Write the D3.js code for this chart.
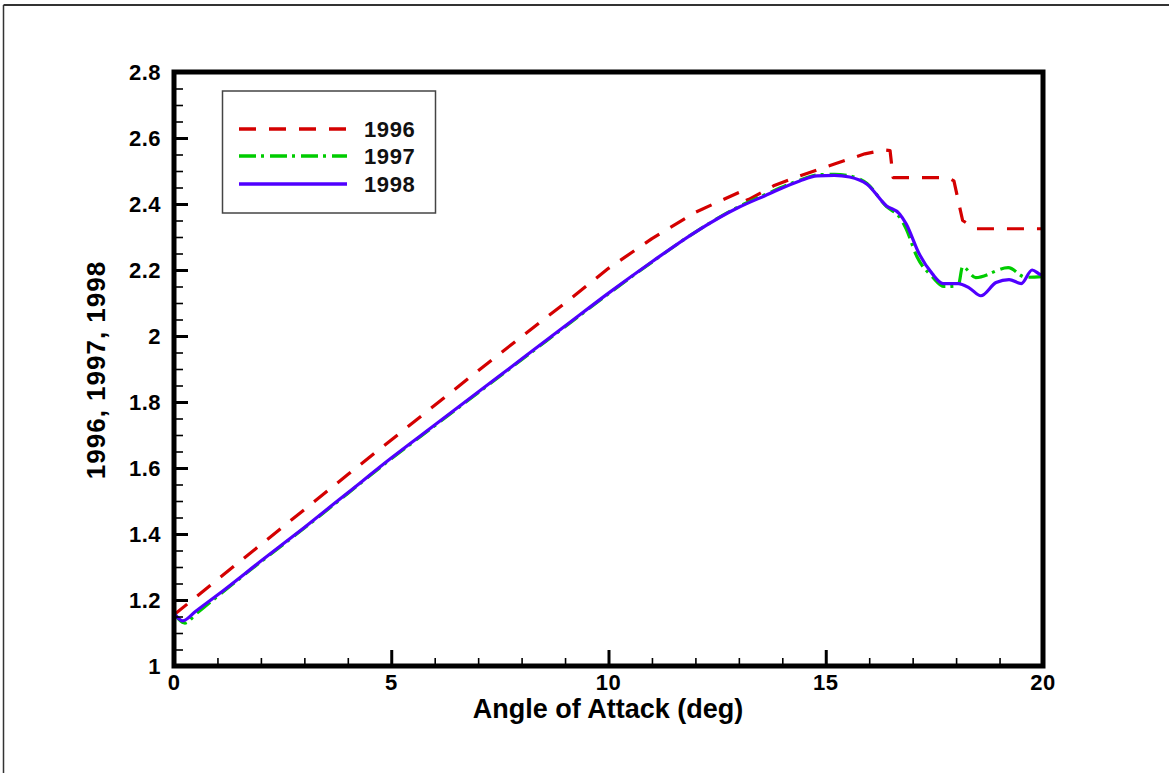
<!DOCTYPE html>
<html>
<head>
<meta charset="utf-8">
<script src="https://cdn.jsdelivr.net/npm/d3@7"></script>
<style>
  html, body { margin: 0; padding: 0; background: #fff; }
  svg { display: block; }
  text { font-family: "Liberation Sans", Arial, Helvetica, sans-serif; font-weight: bold; }
</style>
</head>
<body>
<svg id="chart" width="1169" height="773"></svg>
<script>
// ---------- data ----------
const seriesNames = ["1996", "1997", "1998"];

const aoa1996 = [0, 1, 2, 3, 4, 5, 6, 7, 8, 9, 10, 11, 12, 13, 13.1, 13.2, 13.8, 14.4, 15.2, 15.9, 16.35, 16.48, 16.55, 17.8, 17.95, 18.15, 18.45, 20];
const cl1996  = [1.155, 1.262, 1.368, 1.474, 1.58, 1.685, 1.79, 1.895, 1.998, 2.1, 2.205, 2.295, 2.375, 2.435, 2.44, 2.412, 2.455, 2.485, 2.521, 2.552, 2.564, 2.562, 2.48, 2.48, 2.47, 2.35, 2.325, 2.325];

const aoa1997 = [0, 0.25, 0.5, 1, 2, 3, 4, 5, 6, 7, 8, 9, 10, 11, 12, 13, 13.6, 14.4, 14.8, 15.2, 15.55, 15.95, 16.4, 16.7, 16.85, 17.1, 17.45, 17.72, 18.05, 18.15, 18.45, 19.2, 19.6, 20];
const cl1997  = [1.16, 1.13, 1.157, 1.211, 1.316, 1.418, 1.523, 1.628, 1.728, 1.828, 1.928, 2.028, 2.128, 2.224, 2.315, 2.392, 2.428, 2.472, 2.488, 2.49, 2.485, 2.462, 2.392, 2.36, 2.325, 2.24, 2.18, 2.15, 2.153, 2.21, 2.177, 2.207, 2.178, 2.18];

const aoa1998 = [0, 0.2, 0.5, 1, 2, 3, 4, 5, 6, 7, 8, 9, 10, 11, 12, 13, 13.6, 14.4, 14.8, 15.2, 15.55, 15.95, 16.4, 16.7, 16.85, 17.15, 17.45, 17.7, 18.05, 18.3, 18.57, 18.92, 19.22, 19.5, 19.75, 19.95, 20];
const cl1998  = [1.16, 1.137, 1.166, 1.215, 1.318, 1.42, 1.525, 1.63, 1.73, 1.83, 1.93, 2.03, 2.13, 2.225, 2.315, 2.39, 2.425, 2.47, 2.485, 2.487, 2.482, 2.46, 2.394, 2.37, 2.34, 2.249, 2.189, 2.159, 2.159, 2.146, 2.122, 2.162, 2.171, 2.159, 2.2, 2.186, 2.185];

const xMajorTicks = [0, 5, 10, 15, 20];
const yMajorTicks = [1, 1.2, 1.4, 1.6, 1.8, 2, 2.2, 2.4, 2.6, 2.8];
const yTickLabels = ["1", "1.2", "1.4", "1.6", "1.8", "2", "2.2", "2.4", "2.6", "2.8"];
const xLabel = "Angle of Attack (deg)";
const yLabel = "1996, 1997, 1998";

// ---------- layout ----------
const svg = d3.select("#chart");
const pLeft = 174, pRight = 1043, pTop = 72, pBottom = 666;

const x = d3.scaleLinear().domain([0, 20]).range([pLeft, pRight]);
const y = d3.scaleLinear().domain([1, 2.8]).range([pBottom, pTop]);

// outer page frame (top & left visible)
svg.append("line").attr("x1", 3.5).attr("x2", 1169).attr("y1", 5).attr("y2", 5)
  .attr("stroke", "#333").attr("stroke-width", 2);
svg.append("line").attr("x1", 3.5).attr("x2", 3.5).attr("y1", 5).attr("y2", 773)
  .attr("stroke", "#333").attr("stroke-width", 1.5);

const series = [
  { name: seriesNames[0], xs: aoa1996, ys: cl1996, color: "#d40000", dash: "17,13", curve: d3.curveLinear },
  { name: seriesNames[1], xs: aoa1997, ys: cl1997, color: "#00cc00", dash: "17,5,3,6", curve: d3.curveMonotoneX },
  { name: seriesNames[2], xs: aoa1998, ys: cl1998, color: "#5000ff", dash: null, curve: d3.curveMonotoneX }
];

const plotG = svg.append("g");
series.forEach(s => {
  const pts = s.xs.map((v, i) => [v, s.ys[i]]);
  const line = d3.line().x(d => x(d[0])).y(d => y(d[1])).curve(s.curve);
  const p = plotG.append("path").datum(pts)
    .attr("d", line)
    .attr("fill", "none")
    .attr("stroke", s.color)
    .attr("stroke-width", 3.2)
    .attr("stroke-linejoin", "round");
  if (s.dash) p.attr("stroke-dasharray", s.dash);
});

// ---------- axes ----------
const yMinor = d3.range(1, 2.8001, 0.05).filter(v => Math.abs(Math.round(v * 5) - v * 5) > 1e-6);
const xMinor = d3.range(0, 20.001, 1).filter(v => v % 5 !== 0);

const axG = svg.append("g");
const yAxisMajor = d3.axisRight(y).tickValues(yMajorTicks).tickSize(14).tickFormat("");
const yAxisMinor = d3.axisRight(y).tickValues(yMinor).tickSize(9).tickFormat("");
axG.append("g").attr("transform", `translate(${pLeft},0)`).call(yAxisMinor)
  .call(g => g.select(".domain").remove())
  .call(g => g.selectAll("line").attr("stroke", "#000").attr("stroke-width", 1.6));
axG.append("g").attr("transform", `translate(${pLeft},0)`).call(yAxisMajor)
  .call(g => g.select(".domain").remove())
  .call(g => g.selectAll("line").attr("stroke", "#000").attr("stroke-width", 3));

const xAxisMajor = d3.axisTop(x).tickValues(xMajorTicks).tickSize(16).tickFormat("");
const xAxisMinor = d3.axisTop(x).tickValues(xMinor).tickSize(8).tickFormat("");
axG.append("g").attr("transform", `translate(0,${pBottom})`).call(xAxisMinor)
  .call(g => g.select(".domain").remove())
  .call(g => g.selectAll("line").attr("stroke", "#000").attr("stroke-width", 1.6));
axG.append("g").attr("transform", `translate(0,${pBottom})`).call(xAxisMajor)
  .call(g => g.select(".domain").remove())
  .call(g => g.selectAll("line").attr("stroke", "#000").attr("stroke-width", 3));

axG.append("rect")
  .attr("x", pLeft).attr("y", pTop)
  .attr("width", pRight - pLeft).attr("height", pBottom - pTop)
  .attr("fill", "none").attr("stroke", "#000").attr("stroke-width", 5);

// tick labels
const labG = svg.append("g").attr("fill", "#000");
labG.selectAll("text.yt").data(yMajorTicks).enter().append("text")
  .attr("class", "yt")
  .attr("x", 161).attr("y", d => y(d))
  .attr("dy", "0.36em")
  .attr("text-anchor", "end")
  .style("font-size", "22px")
  .style("letter-spacing", "0.5px")
  .text((d, i) => yTickLabels[i]);

labG.selectAll("text.xt").data(xMajorTicks).enter().append("text")
  .attr("class", "xt")
  .attr("x", d => x(d)).attr("y", 690)
  .attr("text-anchor", "middle")
  .style("font-size", "22px")
  .style("letter-spacing", "0.5px")
  .text(d => String(d));

// axis titles
svg.append("text")
  .attr("x", 608).attr("y", 718)
  .attr("text-anchor", "middle")
  .style("font-size", "27px")
  .text(xLabel);

svg.append("text")
  .attr("transform", "translate(105,370) rotate(-90)")
  .attr("text-anchor", "middle")
  .style("font-size", "26px")
  .style("letter-spacing", "1px")
  .text(yLabel);

// ---------- legend ----------
const lg = svg.append("g");
lg.append("rect").attr("x", 222.5).attr("y", 91).attr("width", 213).attr("height", 122)
  .attr("fill", "#fff").attr("stroke", "#444").attr("stroke-width", 1.5);
const rowY = [129, 156, 184];
series.forEach((s, i) => {
  const l = lg.append("line")
    .attr("x1", 239).attr("x2", 347)
    .attr("y1", rowY[i]).attr("y2", rowY[i])
    .attr("stroke", s.color).attr("stroke-width", 3.6);
  if (s.dash) l.attr("stroke-dasharray", s.dash);
  lg.append("text")
    .attr("x", 364).attr("y", rowY[i]).attr("dy", "0.36em")
    .style("font-size", "22px")
    .style("letter-spacing", "0.6px")
    .attr("fill", "#111")
    .text(s.name);
});
</script>
</body>
</html>
